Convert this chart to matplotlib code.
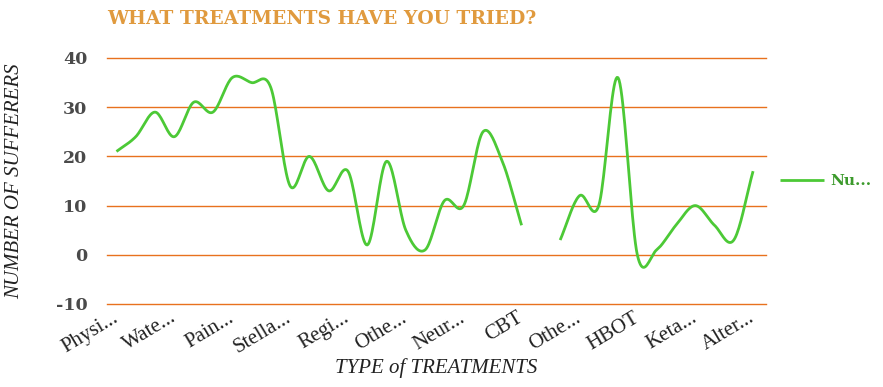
import numpy as np
import matplotlib
matplotlib.use("Agg")
import matplotlib.pyplot as plt

plt.rcParams["axes.unicode_minus"] = False

# survey answers, one value per treatment (None = no answer, gap in line)
counts = [21, 24, 29, 24, 31, 29, 36, 35, 34, 14, 20, 13, 17, 2, 19, 5, 1,
          11, 10, 25, 19, 6, None, 3, 12, 10, 36, 0, 1, 6, 10, 6, 3, 17]
# only every third category gets a label on the axis
tick_labels = ["Physi...", "Wate...", "Pain...", "Stella...", "Regi...", "Othe...",
               "Neur...", "CBT", "Othe...", "HBOT", "Keta...", "Alter..."]
label_step = 3
series_name = "Nu..."

line_color = "#4cc936"
grid_color = "#e8711e"
title_color = "#e09a3e"


def smooth(xs, ys, n=20):
    # catmull-rom through the points, like the "function" curve in the original
    xs = np.asarray(xs, float)
    ys = np.asarray(ys, float)
    if len(xs) < 2:
        return xs, ys
    m = np.zeros_like(ys)
    m[1:-1] = (ys[2:] - ys[:-2]) / 2.0
    m[0] = ys[1] - ys[0]
    m[-1] = ys[-1] - ys[-2]
    out_x, out_y = [], []
    for i in range(len(xs) - 1):
        t = np.linspace(0, 1, n, endpoint=(i == len(xs) - 2))
        h00 = 2 * t**3 - 3 * t**2 + 1
        h10 = t**3 - 2 * t**2 + t
        h01 = -2 * t**3 + 3 * t**2
        h11 = t**3 - t**2
        out_x.append(xs[i] + t * (xs[i + 1] - xs[i]))
        out_y.append(h00 * ys[i] + h10 * m[i] + h01 * ys[i + 1] + h11 * m[i + 1])
    return np.concatenate(out_x), np.concatenate(out_y)


fig = plt.figure(figsize=(8.83, 3.87), dpi=100)
ax = fig.add_axes([107 / 883, 1 - 304 / 387, 659 / 883, 246 / 387])

# split into runs without missing values
runs, cur = [], []
for i, v in enumerate(counts):
    if v is None:
        if cur:
            runs.append(cur)
        cur = []
    else:
        cur.append((i, v))
if cur:
    runs.append(cur)

for k, run in enumerate(runs):
    xs, ys = zip(*run)
    sx, sy = smooth(xs, ys)
    ax.plot(sx, sy, color=line_color, lw=2, solid_capstyle="butt",
            label=series_name if k == 0 else None)

ax.set_xlim(-0.49, 33.67)
ax.set_ylim(-10, 40)
ax.set_yticks(range(-10, 41, 10))
ax.yaxis.grid(True, color=grid_color, lw=1)
for gl in ax.get_ygridlines():
    gl.set_clip_on(False)
ax.set_axisbelow(True)
for s in ax.spines.values():
    s.set_visible(False)
ax.tick_params(axis="both", length=0)
ax.tick_params(axis="y", pad=14)

ax.set_xticks(range(0, len(counts), label_step))
ax.set_xticklabels(tick_labels, rotation=31, ha="right", va="center",
                   rotation_mode="anchor",
                   fontfamily="Liberation Serif", fontsize=15, color="#222222")
ax.tick_params(axis="x", pad=9)
for lab in ax.get_yticklabels():
    lab.set_fontfamily("DejaVu Serif")
    lab.set_fontweight("bold")
    lab.set_fontsize(12.5)
    lab.set_color("#4a4a4a")

fig.text(436 / 883, 1 - 368 / 387, "TYPE of TREATMENTS", fontfamily="Liberation Serif",
         fontstyle="italic", fontsize=15, color="#222222", ha="center", va="center")
fig.text(15 / 883, 1 - 181 / 387, "NUMBER OF SUFFERERS", fontfamily="Liberation Serif",
         fontstyle="italic", fontsize=15, color="#222222", ha="center", va="center",
         rotation=90)

fig.text(107 / 883, 1 - 19 / 387, "WHAT TREATMENTS HAVE YOU TRIED?",
         fontfamily="DejaVu Serif", fontweight="bold", fontsize=13.5,
         color=title_color, va="center", ha="left")

leg = ax.legend(loc="center left", bbox_to_anchor=(774 / 883, 1 - 181 / 387),
                bbox_transform=fig.transFigure, frameon=False, handlelength=2.9,
                handletextpad=0.4, borderaxespad=0,
                prop={"family": "DejaVu Serif", "weight": "bold", "size": 11})
for t in leg.get_texts():
    t.set_color("#3c9a2c")

fig.savefig("out.png", dpi=100)
